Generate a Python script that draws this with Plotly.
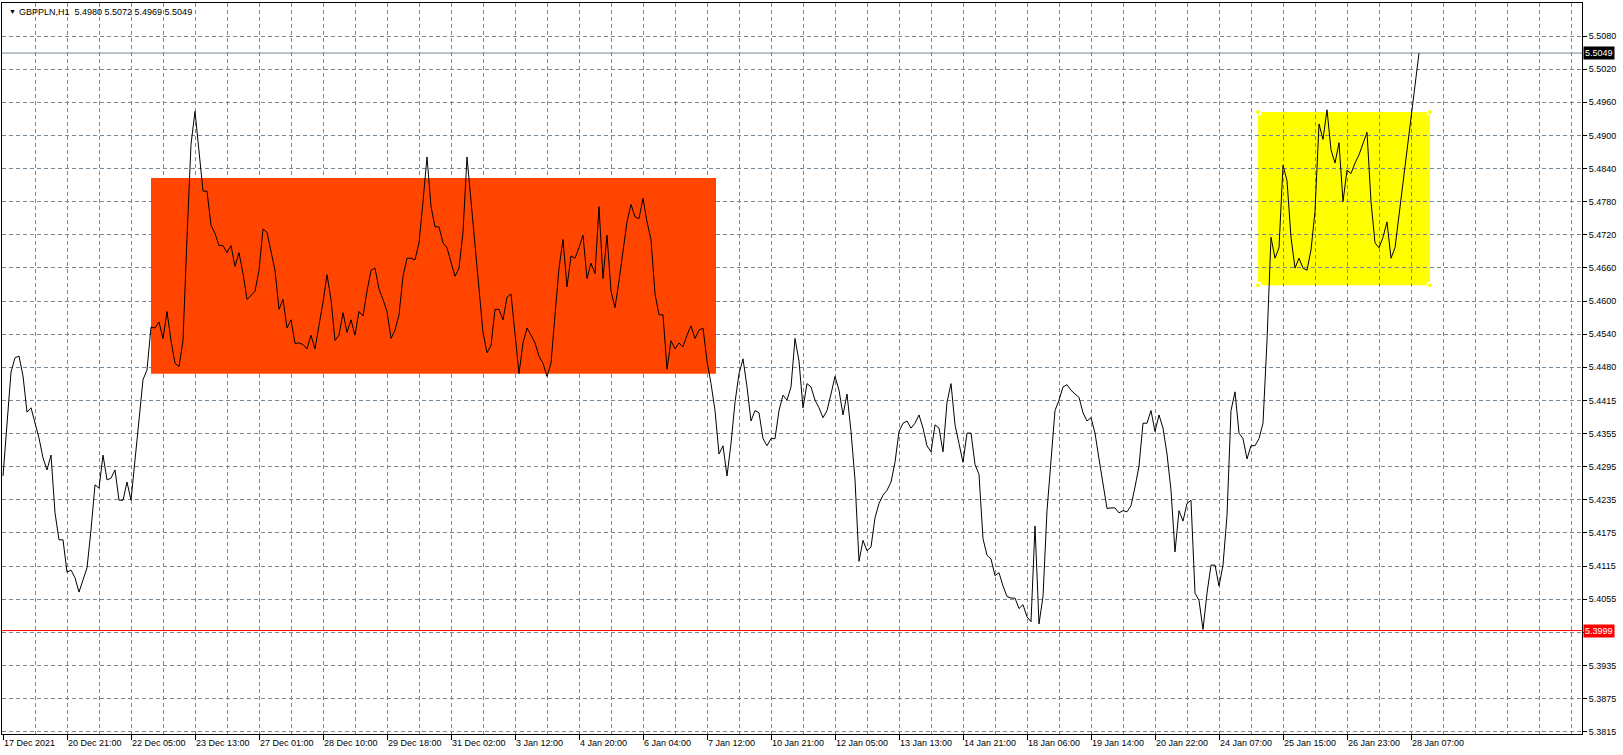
import plotly.graph_objects as go

# ---------------- data (GBPPLN H1, sampled every 2 bars) ----------------
symbol_title = "GBPPLN,H1  5.4980 5.5072 5.4969 5.5049"
bar_step = 2  # hours between stored closes

closes = [
    5.4280, 5.4382, 5.4469, 5.4495, 5.4498, 5.4462, 5.4396, 5.4404, 5.4378, 5.4349,
    5.4313, 5.4291, 5.4318, 5.4213, 5.4164, 5.4164, 5.4105, 5.4109, 5.4095, 5.4069,
    5.4091, 5.4113, 5.4182, 5.4264, 5.4258, 5.4318, 5.4273, 5.4276, 5.4291, 5.4236,
    5.4236, 5.4269, 5.4236, 5.4306, 5.4382, 5.4455, 5.4473, 5.4551,
    5.4549, 5.4560, 5.4530, 5.4579, 5.4526, 5.4485, 5.4479, 5.4526, 5.4714, 5.4883,
    5.4943, 5.4864, 5.4798, 5.4798, 5.4736, 5.4721, 5.4699, 5.4699, 5.4686, 5.4699,
    5.4661, 5.4686, 5.4648, 5.4601, 5.4609, 5.4616, 5.4654, 5.4729, 5.4723, 5.4689,
    5.4654, 5.4583, 5.4601, 5.4549, 5.4564, 5.4521, 5.4522, 5.4519, 5.4511, 5.4536,
    5.4511, 5.4554, 5.4596, 5.4646, 5.4601, 5.4526, 5.4536, 5.4577, 5.4541, 5.4564,
    5.4536, 5.4579, 5.4571, 5.4616, 5.4654, 5.4658, 5.4620, 5.4601, 5.4579, 5.4530,
    5.4545, 5.4573, 5.4643, 5.4676, 5.4676, 5.4673, 5.4704, 5.4779, 5.4860, 5.4770,
    5.4733, 5.4733, 5.4704, 5.4695, 5.4667, 5.4643, 5.4658, 5.4723, 5.4860, 5.4779,
    5.4695, 5.4629, 5.4541, 5.4504, 5.4517, 5.4583, 5.4583, 5.4564, 5.4605, 5.4611,
    5.4536, 5.4466, 5.4522, 5.4549, 5.4536, 5.4522, 5.4498, 5.4485, 5.4461, 5.4485,
    5.4573, 5.4658, 5.4710, 5.4624, 5.4680, 5.4676, 5.4695, 5.4718, 5.4639, 5.4667,
    5.4648, 5.4770, 5.4639, 5.4718, 5.4616, 5.4586, 5.4635, 5.4691, 5.4742, 5.4774,
    5.4751, 5.4748, 5.4785, 5.4742, 5.4710, 5.4611, 5.4573, 5.4573, 5.4474, 5.4526,
    5.4511, 5.4522, 5.4515, 5.4536, 5.4553, 5.4530, 5.4545, 5.4549, 5.4489, 5.4448,
    5.4399, 5.4320, 5.4335, 5.4280, 5.4339, 5.4414, 5.4466, 5.4493, 5.4442, 5.4380,
    5.4399, 5.4395, 5.4348, 5.4335, 5.4348, 5.4348, 5.4399, 5.4427, 5.4418, 5.4442,
    5.4530, 5.4489, 5.4404, 5.4448, 5.4442, 5.4418, 5.4404, 5.4386, 5.4399, 5.4429,
    5.4461, 5.4436, 5.4391, 5.4429, 5.4361, 5.4273, 5.4125, 5.4163, 5.4144, 5.4151,
    5.4204, 5.4230, 5.4245, 5.4254, 5.4269, 5.4305, 5.4361, 5.4376, 5.4380, 5.4367,
    5.4376, 5.4391, 5.4367, 5.4335, 5.4324, 5.4373, 5.4367, 5.4324, 5.4414, 5.4448,
    5.4373, 5.4339, 5.4305, 5.4358, 5.4358, 5.4301, 5.4283, 5.4166, 5.4136, 5.4129,
    5.4099, 5.4104, 5.4080, 5.4061, 5.4058, 5.4058, 5.4039, 5.4046, 5.4024, 5.4015,
    5.4189, 5.4011, 5.4061, 5.4217, 5.4311, 5.4399, 5.4418, 5.4442, 5.4446, 5.4436,
    5.4429, 5.4423, 5.4395, 5.4380, 5.4386, 5.4358, 5.4311, 5.4268, 5.4221, 5.4222,
    5.4222, 5.4213, 5.4217, 5.4215, 5.4226, 5.4260, 5.4298, 5.4376, 5.4376, 5.4399,
    5.4361, 5.4391, 5.4367, 5.4320, 5.4254, 5.4142, 5.4217, 5.4198, 5.4230, 5.4236,
    5.4067, 5.4054, 5.4001, 5.4067, 5.4118, 5.4118, 5.4080, 5.4118, 5.4208, 5.4399,
    5.4433, 5.4358, 5.4348, 5.4311, 5.4335, 5.4335, 5.4348, 5.4376, 5.4526, 5.4714,
    5.4676, 5.4695, 5.4845, 5.4817, 5.4714, 5.4658, 5.4676, 5.4658, 5.4654, 5.4691,
    5.4761, 5.4920, 5.4892, 5.4946, 5.4873, 5.4849, 5.4886, 5.4779, 5.4836, 5.4830,
    5.4849, 5.4864, 5.4883, 5.4905, 5.4779, 5.4704, 5.4695, 5.4714, 5.4742, 5.4676,
    5.4695, 5.4755, 5.4808, 5.4868, 5.4935, 5.4986, 5.5049,
]

# time axis labels (every 32 hourly bars)
x_labels = [
    "17 Dec 2021", "20 Dec 21:00", "22 Dec 05:00", "23 Dec 13:00", "27 Dec 01:00",
    "28 Dec 10:00", "29 Dec 18:00", "31 Dec 02:00", "3 Jan 12:00", "4 Jan 20:00",
    "6 Jan 04:00", "7 Jan 12:00", "10 Jan 21:00", "12 Jan 05:00", "13 Jan 13:00",
    "14 Jan 21:00", "18 Jan 06:00", "19 Jan 14:00", "20 Jan 22:00", "24 Jan 07:00",
    "25 Jan 15:00", "26 Jan 23:00", "28 Jan 07:00",
]
bars_per_label = 32

# price axis labels ("5.3995" sits under the red level label)
y_labels = [
    "5.5080", "5.5020", "5.4960", "5.4900", "5.4840", "5.4780", "5.4720", "5.4660",
    "5.4600", "5.4540", "5.4480", "5.4415", "5.4355", "5.4295", "5.4235", "5.4175",
    "5.4115", "5.4055", "", "5.3935", "5.3875", "5.3815",
]
y_grid_top = 5.5080
y_grid_step = 0.006024

current_price = 5.5049
support_level = 5.3999

# rectangles: (start bar, end bar, top price, bottom price)
red_box = (74, 356.5, 5.4822, 5.4466)
yellow_box = (627.5, 713.5, 5.4942, 5.4627)

# ---------------- figure ----------------
bars = [i * bar_step for i in range(len(closes))]
label_bars = [i * bars_per_label for i in range(len(x_labels))]
y_ticks = [y_grid_top - i * y_grid_step for i in range(len(y_labels))]

GRID = "#778899"
FONT = "Liberation Sans, Arial, sans-serif"

fig = go.Figure()

fig.add_trace(go.Scatter(
    x=bars, y=closes, mode="lines",
    line=dict(color="black", width=1),
    hoverinfo="skip", showlegend=False,
))

# yellow box selection handles
yx0, yx1, yt, yb = yellow_box
fig.add_trace(go.Scatter(
    x=[yx0, yx0, yx1, yx1], y=[yt, yb, yt, yb], mode="markers",
    marker=dict(symbol="square", size=5, color="#FFFF00",
                line=dict(color="white", width=1.5)),
    hoverinfo="skip", showlegend=False,
))

rx0, rx1, rt, rb = red_box
fig.add_shape(type="rect", x0=rx0, x1=rx1, y0=rb, y1=rt,
              fillcolor="#FF4500", line=dict(width=0), layer="between")
fig.add_shape(type="rect", x0=yx0, x1=yx1, y0=yb, y1=yt,
              fillcolor="#FFFF00", line=dict(width=0), layer="below")

fig.add_shape(type="line", xref="paper", x0=0, x1=1, y0=current_price, y1=current_price,
              line=dict(color=GRID, width=1), layer="between")
fig.add_shape(type="line", xref="paper", x0=0, x1=1, y0=support_level, y1=support_level,
              line=dict(color="red", width=1), layer="above")

fig.update_layout(
    width=1623, height=755,
    margin=dict(l=2, r=41, t=3, b=21),
    paper_bgcolor="white", plot_bgcolor="white",
    font=dict(family=FONT, size=9, color="black"),
    showlegend=False,
    xaxis=dict(
        range=[-0.5, 789.5],
        tickmode="array", tickvals=label_bars, ticktext=x_labels,
        ticks="outside", ticklen=5, tickcolor="black", tickwidth=1,
        ticklabelposition="outside right",
        showgrid=True, gridcolor=GRID, griddash="4px,3px", gridwidth=1,
        minor=dict(dtick=16, tick0=0, showgrid=True, gridcolor=GRID,
                   griddash="4px,3px", ticks=""),
        showline=True, linecolor="black", linewidth=1, mirror=True,
        zeroline=False, fixedrange=True,
        tickfont=dict(family=FONT, size=9, color="black"),
    ),
    yaxis=dict(
        side="right",
        range=[5.38109, 5.5140],
        tickmode="array", tickvals=y_ticks, ticktext=y_labels,
        ticks="outside", ticklen=4, tickcolor="black",
        showgrid=True, gridcolor=GRID, griddash="4px,3px", gridwidth=1,
        showline=True, linecolor="black", linewidth=1, mirror=True,
        zeroline=False, fixedrange=True,
        tickfont=dict(family=FONT, size=9, color="black"),
    ),
)

fig.add_annotation(xref="paper", yref="y", x=1, y=current_price, xanchor="left",
                   xshift=1, text=f"{current_price:.4f}", showarrow=False,
                   bgcolor="black", font=dict(color="white", size=9, family=FONT),
                   borderpad=1)
fig.add_annotation(xref="paper", yref="y", x=1, y=support_level, xanchor="left",
                   xshift=1, text=f"{support_level:.4f}", showarrow=False,
                   bgcolor="red", font=dict(color="white", size=9, family=FONT),
                   borderpad=1)

fig.add_annotation(xref="paper", yref="paper", x=0, y=1, xanchor="left", yanchor="top",
                   xshift=5, yshift=-3, text="▼", showarrow=False,
                   font=dict(size=7, color="black", family=FONT))
fig.add_annotation(xref="paper", yref="paper", x=0, y=1, xanchor="left", yanchor="top",
                   xshift=15, yshift=-2, text=symbol_title.replace("  ", "&nbsp;&nbsp;"),
                   showarrow=False, font=dict(size=9, color="black", family=FONT))

fig.write_html(
    "out.html",
    config={"displayModeBar": False},
    post_script="document.body.style.margin='0';document.body.style.overflow='hidden';",
)
